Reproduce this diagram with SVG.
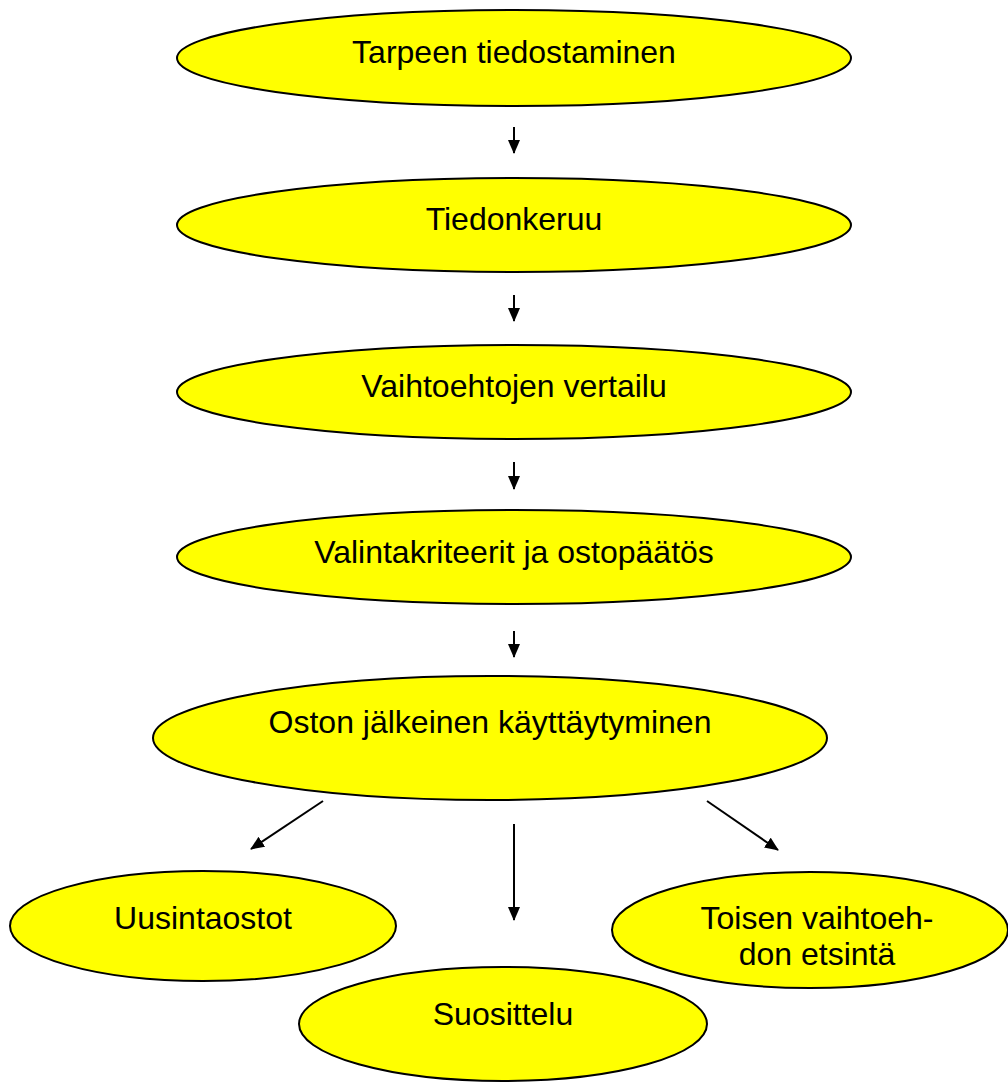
<svg xmlns="http://www.w3.org/2000/svg" width="1008" height="1084" viewBox="0 0 1008 1084">
<style>
.n ellipse{fill:#ffff00;stroke:#000;stroke-width:2}
.n text{font-family:"Liberation Sans",Arial,sans-serif;font-size:32px;fill:#000;text-anchor:middle}
.c line{stroke:#000;stroke-width:2;marker-end:url(#ah)}
</style>
<defs>
<marker id="ah" markerWidth="14" markerHeight="12" refX="13" refY="6" orient="auto" markerUnits="userSpaceOnUse" viewBox="0 0 14 12">
<path d="M0,0 L14,6 L0,12 z" fill="#000"/>
</marker>
</defs>
<rect width="1008" height="1084" fill="#fff"/>
<g class="c">
<line x1="514" y1="127" x2="514" y2="153"/>
<line x1="514" y1="295" x2="514" y2="321"/>
<line x1="514" y1="462" x2="514" y2="489"/>
<line x1="514" y1="631" x2="514" y2="657"/>
<line x1="323" y1="801" x2="251" y2="849"/>
<line x1="514" y1="824" x2="514" y2="920"/>
<line x1="707" y1="801" x2="778" y2="850"/>
</g>
<g id="n1" class="n"><ellipse cx="514" cy="58" rx="337" ry="48"/><text x="514" y="63">Tarpeen tiedostaminen</text></g>
<g id="n2" class="n"><ellipse cx="514" cy="225" rx="337" ry="47"/><text x="514" y="230">Tiedonkeruu</text></g>
<g id="n3" class="n"><ellipse cx="514" cy="392" rx="337" ry="47"/><text x="514" y="397">Vaihtoehtojen vertailu</text></g>
<g id="n4" class="n"><ellipse cx="514" cy="557" rx="337" ry="47"/><text x="514" y="563">Valintakriteerit ja ostopäätös</text></g>
<g id="n5" class="n"><ellipse cx="490" cy="738" rx="337" ry="62"/><text x="490" y="733">Oston jälkeinen käyttäytyminen</text></g>
<g id="n6" class="n"><ellipse cx="203" cy="926" rx="193" ry="55"/><text x="203" y="929">Uusintaostot</text></g>
<g id="n7" class="n"><ellipse cx="810" cy="930" rx="198" ry="58"/><text x="817" y="929">Toisen vaihtoeh-</text><text x="817" y="965">don etsintä</text></g>
<g id="n8" class="n"><ellipse cx="503" cy="1024" rx="204" ry="57"/><text x="503" y="1025">Suosittelu</text></g>
</svg>
